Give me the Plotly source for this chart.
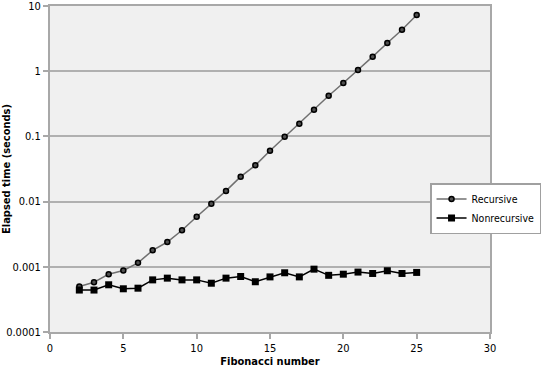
import plotly.graph_objects as go

fib_n = list(range(2, 26))
recursive = [0.0005, 0.00058, 0.00077, 0.00088, 0.00115, 0.00179, 0.0024, 0.00363,
             0.00586, 0.0093, 0.0146, 0.0241, 0.036, 0.0604, 0.0989, 0.157, 0.257,
             0.42, 0.66, 1.04, 1.67, 2.71, 4.33, 7.3]
nonrecursive = [0.00044, 0.00044, 0.00053, 0.00046, 0.00047, 0.00063, 0.00067, 0.00063,
                0.00063, 0.00056, 0.00067, 0.00071, 0.00059, 0.0007, 0.00081, 0.0007,
                0.00092, 0.00074, 0.00077, 0.00083, 0.00079, 0.00087, 0.00079, 0.00082]
y_ticks = [0.0001, 0.001, 0.01, 0.1, 1, 10]
y_ticktext = ["0.0001", "0.001", "0.01", "0.1", "1", "10"]
x_ticks = [0, 5, 10, 15, 20, 25, 30]

FONT = "DejaVu Sans Condensed, Liberation Sans Narrow, Roboto, sans-serif"

fig = go.Figure()
fig.add_trace(go.Scatter(
    x=fib_n, y=recursive, mode="lines+markers", name="Recursive",
    line=dict(color="#707070", width=1.5),
    marker=dict(symbol="circle", size=5, color="#505050", line=dict(color="black", width=1.5)),
))
fig.add_trace(go.Scatter(
    x=fib_n, y=nonrecursive, mode="lines+markers", name="Nonrecursive",
    line=dict(color="black", width=1.5),
    marker=dict(symbol="square", size=7, color="black"),
))

fig.update_layout(
    width=550, height=376,
    margin=dict(l=50, r=60, t=6, b=44, autoexpand=False),
    paper_bgcolor="white", plot_bgcolor="#f0f0f0",
    font=dict(family=FONT, size=11, color="black"),
    showlegend=True,
    legend=dict(x=1.116, y=0.457, xanchor="right", yanchor="top",
                bgcolor="white", bordercolor="#a0a0a0", borderwidth=1.5,
                font=dict(size=10.5), tracegroupgap=4, itemwidth=30),
    xaxis=dict(range=[0, 30], tickvals=x_ticks, showgrid=False, zeroline=False,
               showline=True, linecolor="#a8a8a8", linewidth=2, mirror=True,
               ticks="outside", ticklen=5, tickcolor="#a8a8a8", tickwidth=1.5,
               automargin=False, ticklabeloverflow="allow",
               title=dict(text="<b>Fibonacci number</b>", standoff=0, font=dict(size=11))),
    yaxis=dict(type="log", range=[-4, 1], tickvals=y_ticks, ticktext=y_ticktext,
               showgrid=True, gridcolor="#b0b0b0", gridwidth=1.5, zeroline=False,
               showline=True, linecolor="#a8a8a8", linewidth=2, mirror=True,
               ticks="outside", ticklen=5, tickcolor="#a8a8a8", tickwidth=1.5,
               automargin=False, ticklabeloverflow="allow",
               title=dict(text="<b>Elapsed time (seconds)</b>", standoff=6, font=dict(size=11))),
)

fig.write_html("out.html", config={"displayModeBar": False},
               post_script="document.body.style.margin='0';")
